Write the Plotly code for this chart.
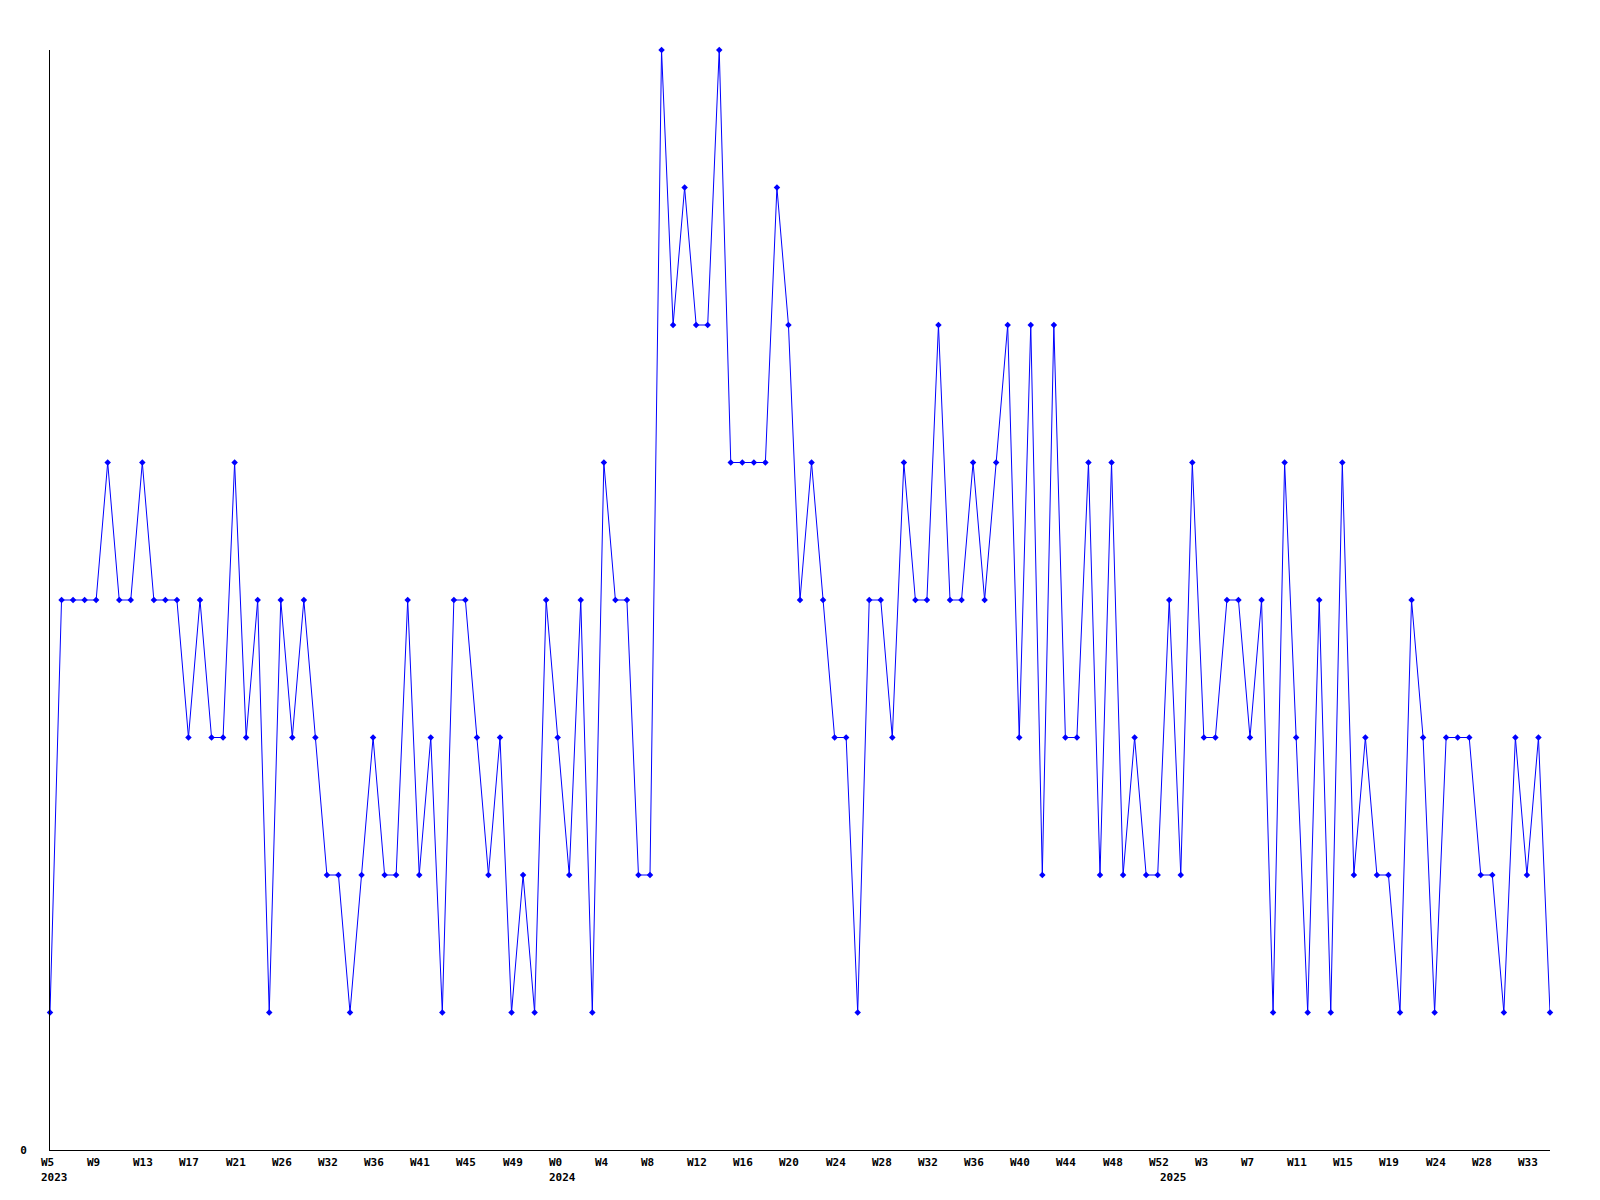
import plotly.graph_objects as go

# weekly values, W5 2023 onward (131 weeks)
values = [1, 4, 4, 4, 4, 5, 4, 4, 5, 4, 4, 4, 3, 4, 3, 3, 5, 3, 4, 1,
          4, 3, 4, 3, 2, 2, 1, 2, 3, 2, 2, 4, 2, 3, 1, 4, 4, 3, 2, 3,
          1, 2, 1, 4, 3, 2, 4, 1, 5, 4, 4, 2, 2, 8, 6, 7, 6, 6, 8, 5,
          5, 5, 5, 7, 6, 4, 5, 4, 3, 3, 1, 4, 4, 3, 5, 4, 4, 6, 4, 4,
          5, 4, 5, 6, 3, 6, 2, 6, 3, 3, 5, 2, 5, 2, 3, 2, 2, 4, 2, 5,
          3, 3, 4, 4, 3, 4, 1, 5, 3, 1, 4, 1, 5, 2, 3, 2, 2, 1, 4, 3,
          1, 3, 3, 3, 2, 2, 1, 3, 2, 3, 1]
weeks = list(range(len(values)))

tick_labels = ["W5", "W9", "W13", "W17", "W21", "W26", "W32", "W36", "W41", "W45", "W49",
               "W0", "W4", "W8", "W12", "W16", "W20", "W24", "W28", "W32", "W36", "W40",
               "W44", "W48", "W52", "W3", "W7", "W11", "W15", "W19", "W24", "W28", "W33"]
tick_positions = list(range(0, 4 * len(tick_labels), 4))

year_labels = ["2023", "2024", "2025"]
year_positions = [0, 44, 97]

fig = go.Figure()
fig.add_trace(go.Scatter(
    x=weeks, y=values, mode="lines+markers",
    line=dict(color="#0000ff", width=1),
    marker=dict(symbol="diamond", size=5, color="#0000ff"),
    cliponaxis=False, showlegend=False, hoverinfo="skip",
))

font = dict(family="DejaVu Sans Mono", size=11, color="black", weight="bold")
annotations = []
for pos, lab in zip(tick_positions, tick_labels):
    annotations.append(dict(x=pos, y=0, xref="x", yref="paper", text=lab,
                            showarrow=False, xanchor="left", yanchor="top",
                            xshift=-10, yshift=-5, font=font, borderpad=0))
for pos, lab in zip(year_positions, year_labels):
    annotations.append(dict(x=pos, y=0, xref="x", yref="paper", text=lab,
                            showarrow=False, xanchor="left", yanchor="top",
                            xshift=-10, yshift=-20, font=font, borderpad=0))

fig.update_layout(
    width=1600, height=1200,
    margin=dict(l=50, r=50, t=50, b=50, pad=0),
    paper_bgcolor="white", plot_bgcolor="white",
    annotations=annotations,
    xaxis=dict(range=[0, 130], showgrid=False, zeroline=False, showline=True,
               linecolor="black", linewidth=1, showticklabels=False, ticks=""),
    yaxis=dict(range=[0, 8], showgrid=False, zeroline=False, showline=True,
               linecolor="black", linewidth=1, tickvals=[0], ticktext=["0"],
               ticks="", tickfont=font, ticklabelstandoff=20),
)

fig.write_html("out.html", config={"displayModeBar": False},
               post_script="document.body.style.margin='0';")
